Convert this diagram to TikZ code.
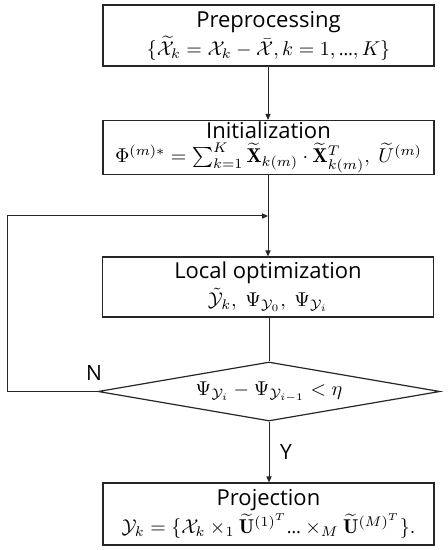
\documentclass[tikz,border=0pt]{standalone}
\usepackage{amsmath}
\usepackage{fontspec}
\setsansfont{Open Sans}
\usetikzlibrary{shapes.geometric,arrows.meta}
\newcommand{\mline}[1]{{\fontsize{10}{13}\selectfont$#1$}}
\newcommand{\tdots}{\text{\sffamily\fontsize{9}{10}\selectfont\textellipsis}}
\begin{document}
\begin{tikzpicture}[x=0.5pt,y=-0.5pt,
  every node/.style={font=\sffamily\fontsize{11}{14}\selectfont},
  procbox/.style={draw=black!85,line width=0.6pt,rectangle,minimum width=165.5pt,align=center,inner sep=0pt},
  decbox/.style={draw=black!85,line width=0.6pt,diamond,minimum width=171pt,minimum height=29.5pt,inner sep=0pt,shape aspect=5.8},
  conn/.style={draw=black!85,line width=0.5pt},
  arr/.style={conn,-{Triangle[length=3pt,width=2.6pt]}},
  lbl/.style={font=\sffamily\fontsize{10.5}{12}\selectfont}]
\useasboundingbox (0,0) rectangle (447,550);
\node[procbox,minimum height=30.5pt] (b1) at (268.5,35.5)
  {Preprocessing\\\mline{\{\widetilde{\mathcal{X}}_k=\mathcal{X}_k-\bar{\mathcal{X}},k=1,\tdots,K\}}};
\node[procbox,minimum height=27pt] (b2) at (268.5,147.5)
  {Initialization\\[-2pt]\mline{\Phi^{(m)*}=\textstyle\sum_{k=1}^{K}\widetilde{\mathbf{X}}_{k(m)}\cdot\widetilde{\mathbf{X}}^{T}_{k(m)},\ \widetilde{U}^{(m)}}};
\node[procbox,minimum height=30pt] (b3) at (268,287)
  {Local optimization\\\mline{\tilde{\mathcal{Y}}_k,\ \Psi_{\mathcal{Y}_0},\ \Psi_{\mathcal{Y}_i}}};
\node[decbox] (d) at (269,391.5)
  {\mline{\Psi_{\mathcal{Y}_i}-\Psi_{\mathcal{Y}_{i-1}}<\eta}};
\node[procbox,minimum height=31pt] (b4) at (268.5,514)
  {Projection\\\mline{\mathcal{Y}_k=\{\mathcal{X}_k\times_1\widetilde{\mathbf{U}}^{{(1)}^T}\tdots\times_M\widetilde{\mathbf{U}}^{{(M)}^T}\}.}};
\coordinate (j) at (268,216);
\coordinate (lb) at (7,391.5);
\coordinate (lt) at (7,216);
\draw[arr] (b1.south -| j) -- (b2.north -| j);
\draw[conn] (b2.south -| j) -- (j);
\draw[arr] (j) -- (b3.north -| j);
\draw[conn] (b3.south -| d) -- (d.north);
\draw[arr] (d.west) -- (lb) -- (lt) -- (j);
\draw[arr] (d.south) -- node[lbl,right=2pt] (ly) {Y} (b4.north -| d);
\node[lbl] (ln) at (94,373) {N};
\end{tikzpicture}
\end{document}
